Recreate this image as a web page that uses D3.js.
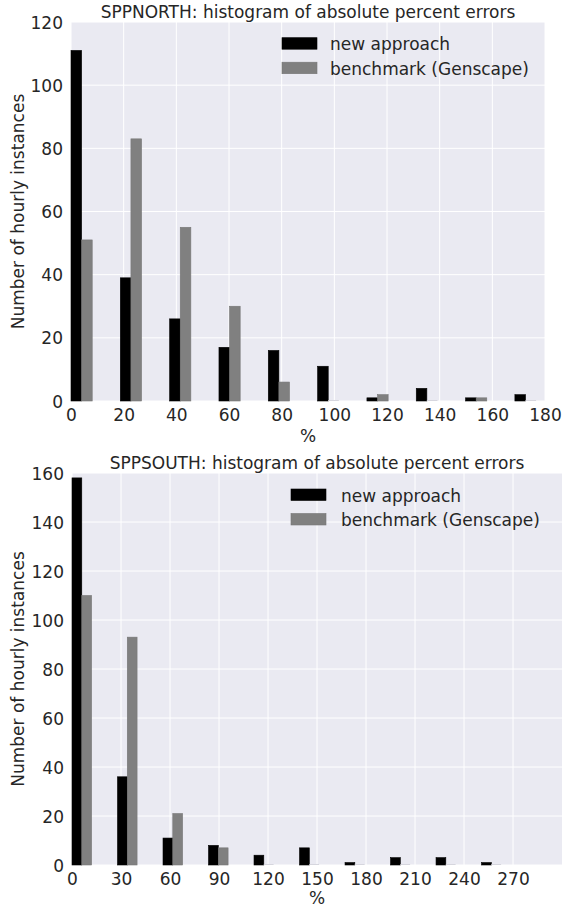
<!DOCTYPE html>
<html>
<head>
<meta charset="utf-8">
<script src="https://cdnjs.cloudflare.com/ajax/libs/d3/7.8.5/d3.min.js"></script>
<style>
  html, body { margin: 0; padding: 0; background: #ffffff; }
  svg { display: block; }
  text { font-family: "DejaVu Sans", sans-serif; fill: #262626; }
</style>
</head>
<body>
<svg id="chart" width="562" height="907"></svg>
<script>
// ---------- DATA ----------
const seriesNames = ["new approach", "benchmark (Genscape)"];
const seriesColors = ["#000000", "#808080"];

// SPPNORTH
const northBinStarts = [0, 18.73, 37.46, 56.19, 74.92, 93.65, 112.38, 131.11, 149.84, 168.57];
const northBinWidth = 18.73;
const northNew = [111, 39, 26, 17, 16, 11, 1, 4, 1, 2];
const northBench = [51, 83, 55, 30, 6, 0, 2, 0, 1, 0];
const northXTicks = [0, 20, 40, 60, 80, 100, 120, 140, 160, 180];
const northYTicks = [0, 20, 40, 60, 80, 100, 120];

// SPPSOUTH
const southBinStarts = [0, 27.86, 55.72, 83.58, 111.44, 139.3, 167.16, 195.02, 222.88, 250.74];
const southBinWidth = 27.86;
const southNew = [158, 36, 11, 8, 4, 7, 1, 3, 3, 1];
const southBench = [110, 93, 21, 7, 0, 0, 0, 0, 0, 0];
const southXTicks = [0, 30, 60, 90, 120, 150, 180, 210, 240, 270];
const southYTicks = [0, 20, 40, 60, 80, 100, 120, 140, 160];

// ---------- DRAW ----------
const svg = d3.select("#chart");

function drawPanel(cfg) {
  const { left, right, top, bottom, xMax, yMax, binStarts, binWidth, values,
          xTicks, yTicks, title, legendX, legendTextX, legendY, xLabelOffset } = cfg;
  const g = svg.append("g");
  const x = d3.scaleLinear().domain([0, xMax]).range([left, right]);
  const y = d3.scaleLinear().domain([0, yMax]).range([bottom, top]);

  // background
  g.append("rect").attr("x", left).attr("y", top)
    .attr("width", right - left).attr("height", bottom - top)
    .attr("fill", "#eaeaf2");

  // grid
  g.append("g").selectAll("line.gx").data(xTicks).join("line")
    .attr("x1", d => x(d)).attr("x2", d => x(d))
    .attr("y1", top).attr("y2", bottom)
    .attr("stroke", "#ffffff").attr("stroke-width", 1);
  g.append("g").selectAll("line.gy").data(yTicks).join("line")
    .attr("x1", left).attr("x2", right)
    .attr("y1", d => y(d)).attr("y2", d => y(d))
    .attr("stroke", "#ffffff").attr("stroke-width", 1);

  // bars
  const barW = binWidth * 0.215;
  values.forEach((vals, si) => {
    const rows = binStarts.map((b, i) => ({ b, v: vals[i] }));
    g.append("g").selectAll("rect").data(rows).join("rect")
      .attr("x", d => x(d.b + si * barW))
      .attr("width", d => x(d.b + barW) - x(d.b))
      .attr("y", d => d.v > 0 ? y(d.v) : y(0) - 1)
      .attr("height", d => d.v > 0 ? y(0) - y(d.v) : 1)
      .attr("fill", d => d.v > 0 ? seriesColors[si] : "#d6d6de")
      .attr("stroke", d => d.v > 0 ? (si === 0 ? "#000000" : "#767676") : "none")
      .attr("stroke-width", 0.6);
  });

  // axes labels (ticks)
  const xAxis = d3.axisBottom(x).tickValues(xTicks).tickSize(0).tickPadding(0);
  const ax = g.append("g").attr("transform", `translate(0,${bottom})`).call(xAxis);
  ax.select(".domain").remove();
  ax.selectAll("text").attr("font-size", 17).attr("dy", null).attr("y", 20.3)
    .attr("font-family", "DejaVu Sans").attr("fill", "#262626");

  const yAxis = d3.axisLeft(y).tickValues(yTicks).tickSize(0).tickPadding(0);
  const ay = g.append("g").attr("transform", `translate(${left},0)`).call(yAxis);
  ay.select(".domain").remove();
  ay.selectAll("text").attr("font-size", 17).attr("x", -8).attr("dy", "0.36em")
    .attr("font-family", "DejaVu Sans").attr("fill", "#262626");

  // title
  g.append("text").attr("x", (left + right) / 2).attr("y", top - 4)
    .attr("text-anchor", "middle").attr("font-size", 17).text(title);

  // x label
  g.append("text").attr("x", (left + right) / 2).attr("y", bottom + xLabelOffset)
    .attr("text-anchor", "middle").attr("font-size", 17).text("%");

  // y label
  g.append("text")
    .attr("transform", `translate(24,${(top + bottom) / 2}) rotate(-90)`)
    .attr("text-anchor", "middle").attr("font-size", 17)
    .text("Number of hourly instances");

  // legend
  seriesNames.forEach((name, i) => {
    const yy = legendY + i * 24.5;
    g.append("rect").attr("x", legendX).attr("y", yy)
      .attr("width", 35).attr("height", 11.5)
      .attr("fill", seriesColors[i])
      .attr("stroke", i === 0 ? "#000" : "#767676").attr("stroke-width", 0.6);
    g.append("text").attr("x", legendTextX).attr("y", yy + 12.5)
      .attr("font-size", 17).text(name);
  });
}

drawPanel({
  left: 71, right: 545, top: 22, bottom: 401,
  xMax: 180, yMax: 120,
  binStarts: northBinStarts, binWidth: northBinWidth,
  values: [northNew, northBench],
  xTicks: northXTicks, yTicks: northYTicks,
  title: "SPPNORTH: histogram of absolute percent errors",
  legendX: 282, legendTextX: 330, legendY: 37.7, xLabelOffset: 41
});

drawPanel({
  left: 72, right: 562, top: 473, bottom: 865,
  xMax: 300, yMax: 160,
  binStarts: southBinStarts, binWidth: southBinWidth,
  values: [southNew, southBench],
  xTicks: southXTicks, yTicks: southYTicks,
  title: "SPPSOUTH: histogram of absolute percent errors",
  legendX: 291, legendTextX: 341, legendY: 489, xLabelOffset: 39
});
</script>
</body>
</html>
